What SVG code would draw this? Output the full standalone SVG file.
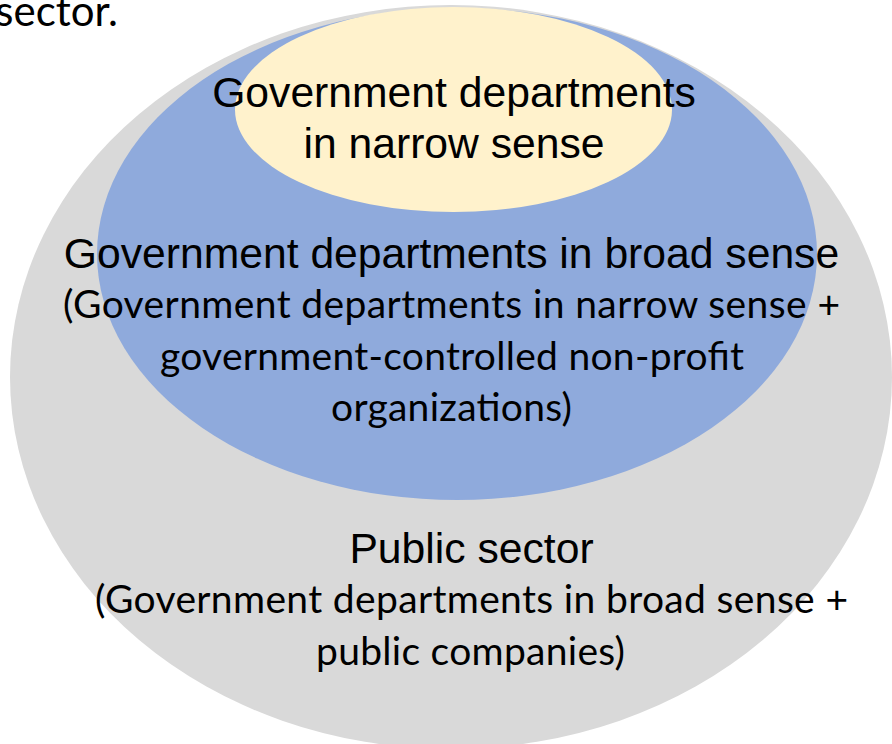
<svg xmlns="http://www.w3.org/2000/svg" width="892" height="744" viewBox="0 0 892 744">
  <style>
    .arial { font-family: "Liberation Sans", Arial, sans-serif; font-size: 42.67px; fill: #000; text-anchor: middle; }
    .cal { font-family: Lato, "Open Sans", sans-serif; font-size: 39px; fill: #000; text-anchor: middle; }
    .gray { fill: #D9D9D9; }
    .blue { fill: #8FAADC; }
    .yellow { fill: #FFF2CC; }
  </style>
  <rect x="0" y="0" width="892" height="744" fill="#FFFFFF"/>
  <text x="118" y="26" font-family="Lato, 'Open Sans', sans-serif" font-size="42" text-anchor="end" fill="#000">sector.</text>
  <g id="node-public-sector">
    <ellipse class="gray" cx="451" cy="377" rx="441" ry="372"/>
    <text class="arial" x="471.5" y="563">Public sector</text>
    <text class="cal" x="471.5" y="613" textLength="753" lengthAdjust="spacing">(Government departments in broad sense +</text>
    <text class="cal" x="470.5" y="665" textLength="309" lengthAdjust="spacing">public companies)</text>
  </g>
  <g id="node-broad-sense">
    <ellipse class="blue" cx="457" cy="254" rx="360" ry="246"/>
    <text class="arial" x="451.5" y="268">Government departments in broad sense</text>
    <text class="cal" x="451.5" y="318" textLength="777" lengthAdjust="spacing">(Government departments in narrow sense +</text>
    <text class="cal" x="452" y="370" textLength="584" lengthAdjust="spacing">government-controlled non-profit</text>
    <text class="cal" x="451.5" y="421" textLength="241" lengthAdjust="spacing">organizations)</text>
  </g>
  <g id="node-narrow-sense">
    <ellipse class="yellow" cx="453.5" cy="109.5" rx="218.5" ry="102.5"/>
    <text class="arial" x="454" y="107">Government departments</text>
    <text class="arial" x="454" y="158">in narrow sense</text>
  </g>
  <g id="connectors"/>
</svg>
